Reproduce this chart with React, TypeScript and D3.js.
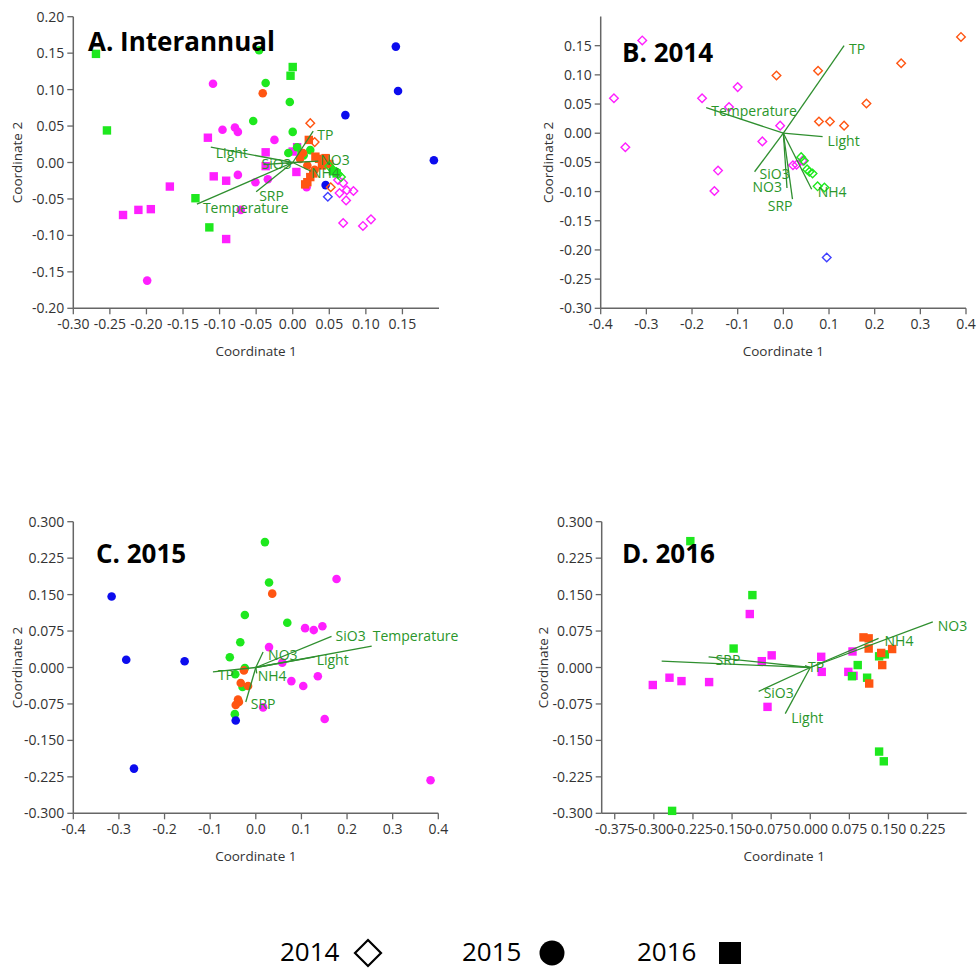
import React from "react";
import * as d3 from "d3";

type P = [number, number];
type Vec = { name: string; x: number; y: number };

// ---------- Panel A: Interannual ----------
const A_2014_orange: P[] = [[0.024, 0.054], [0.03, 0.028], [0.052, -0.034]];
const A_2014_magenta: P[] = [[0.062, -0.024], [0.069, -0.028], [0.064, -0.042], [0.074, -0.038], [0.083, -0.039], [0.073, -0.052], [0.069, -0.083], [0.096, -0.087], [0.107, -0.078]];
const A_2014_green: P[] = [[0.05, -0.005], [0.055, -0.01], [0.062, -0.016], [0.066, -0.02]];
const A_2014_blue: P[] = [[0.048, -0.047]];
const A_2015_green: P[] = [[-0.046, 0.154], [-0.037, 0.109], [-0.004, 0.083], [-0.054, 0.057], [0.0, 0.042], [0.024, 0.017], [0.006, 0.021], [-0.006, 0.013], [0.015, 0.01], [0.06, -0.013]];
const A_2015_magenta: P[] = [[-0.109, 0.108], [-0.096, 0.045], [-0.079, 0.048], [-0.075, 0.042], [-0.025, 0.031], [-0.075, -0.017], [-0.051, -0.027], [-0.034, -0.023], [-0.199, -0.162], [-0.071, -0.065], [0.019, -0.034]];
const A_2015_orange: P[] = [[-0.041, 0.095], [0.014, 0.013], [0.02, -0.004], [0.01, 0.005], [0.03, -0.01]];
const A_2015_blue: P[] = [[0.141, 0.159], [0.144, 0.098], [0.193, 0.003], [0.072, 0.065], [0.045, -0.031]];
const A_2016_green: P[] = [[-0.269, 0.149], [-0.254, 0.044], [-0.133, -0.049], [-0.114, -0.089], [-0.003, 0.119], [0.0, 0.131], [0.012, 0.01], [0.055, -0.012], [0.06, -0.015]];
const A_2016_magenta: P[] = [[-0.116, 0.034], [-0.108, -0.019], [-0.091, -0.025], [-0.168, -0.033], [-0.232, -0.072], [-0.211, -0.065], [-0.194, -0.064], [-0.091, -0.105], [-0.037, 0.014], [-0.037, -0.005], [0.005, -0.013], [0.006, 0.021], [0.0, 0.015]];
const A_2016_orange: P[] = [[0.022, 0.031], [0.031, 0.008], [0.036, 0.005], [0.02, -0.027], [0.024, -0.02], [0.04, -0.004], [0.028, -0.015], [0.045, 0.006], [0.05, -0.002], [0.017, -0.03]];
const A_vectors: Vec[] = [
  { name: "Light", x: -0.112, y: 0.021 },
  { name: "Temperature", x: -0.131, y: -0.057 },
  { name: "SRP", x: -0.05, y: -0.04 },
  { name: "SiO3", x: -0.04, y: -0.003 },
  { name: "TP", x: 0.028, y: 0.043 },
  { name: "NO3", x: 0.035, y: 0.002 },
  { name: "NH4", x: 0.025, y: -0.012 },
];
const A_xTicks = [-0.3, -0.25, -0.2, -0.15, -0.1, -0.05, 0, 0.05, 0.1, 0.15];
const A_yTicks = [-0.2, -0.15, -0.1, -0.05, 0, 0.05, 0.1, 0.15, 0.2];

// ---------- Panel B: 2014 ----------
const B_magenta: P[] = [[-0.309, 0.159], [-0.371, 0.06], [-0.346, -0.024], [-0.178, 0.06], [-0.1, 0.079], [-0.119, 0.045], [-0.007, 0.013], [-0.046, -0.014], [-0.143, -0.064], [-0.151, -0.099], [0.021, -0.055], [0.029, -0.054], [0.042, -0.047]];
const B_orange: P[] = [[-0.015, 0.099], [0.076, 0.107], [0.258, 0.12], [0.389, 0.165], [0.182, 0.051], [0.078, 0.02], [0.102, 0.02], [0.133, 0.013]];
const B_green: P[] = [[0.039, -0.041], [0.045, -0.047], [0.052, -0.062], [0.057, -0.066], [0.064, -0.069], [0.075, -0.091], [0.09, -0.093]];
const B_blue: P[] = [[0.095, -0.213]];
const B_vectors: Vec[] = [
  { name: "TP", x: 0.133, y: 0.15 },
  { name: "Temperature", x: -0.169, y: 0.044 },
  { name: "Light", x: 0.086, y: -0.006 },
  { name: "NO3", x: 0.008, y: -0.094 },
  { name: "SRP", x: 0.02, y: -0.113 },
  { name: "NH4", x: 0.062, y: -0.096 },
  { name: "SiO3", x: -0.063, y: -0.066 },
];
const B_xTicks = [-0.4, -0.3, -0.2, -0.1, 0, 0.1, 0.2, 0.3, 0.4];
const B_yTicks = [-0.3, -0.25, -0.2, -0.15, -0.1, -0.05, 0, 0.05, 0.1, 0.15];

// ---------- Panel C: 2015 ----------
const C_blue: P[] = [[-0.316, 0.146], [-0.284, 0.016], [-0.156, 0.013], [-0.267, -0.208], [-0.044, -0.109]];
const C_green: P[] = [[0.02, 0.258], [0.029, 0.175], [-0.024, 0.108], [0.069, 0.092], [-0.034, 0.052], [-0.057, 0.021], [-0.024, -0.001], [-0.045, -0.014], [-0.029, -0.04], [-0.046, -0.096]];
const C_orange: P[] = [[0.036, 0.152], [-0.026, -0.006], [-0.033, -0.032], [-0.017, -0.038], [-0.039, -0.066], [-0.037, -0.071], [-0.044, -0.077]];
const C_magenta: P[] = [[0.177, 0.182], [0.108, 0.081], [0.127, 0.077], [0.146, 0.085], [0.029, 0.042], [0.058, 0.01], [0.078, -0.028], [0.104, -0.038], [0.136, -0.018], [0.151, -0.106], [0.016, -0.082], [0.383, -0.232]];
const C_vectors: Vec[] = [
  { name: "SiO3", x: 0.166, y: 0.064 },
  { name: "Temperature", x: 0.254, y: 0.044 },
  { name: "Light", x: 0.129, y: 0.022 },
  { name: "TP", x: -0.094, y: -0.009 },
  { name: "NO3", x: 0.016, y: 0.032 },
  { name: "NH4", x: 0.002, y: -0.012 },
  { name: "SRP", x: -0.022, y: -0.071 },
];
const C_xTicks = [-0.4, -0.3, -0.2, -0.1, 0, 0.1, 0.2, 0.3, 0.4];
const C_yTicks = [-0.3, -0.225, -0.15, -0.075, 0, 0.075, 0.15, 0.225, 0.3];

// ---------- Panel D: 2016 ----------
const D_green: P[] = [[-0.23, 0.26], [-0.111, 0.149], [-0.147, 0.039], [-0.265, -0.295], [0.091, 0.005], [0.08, -0.018], [0.109, -0.021], [0.132, 0.023], [0.143, 0.027], [0.132, -0.173], [0.141, -0.193]];
const D_magenta: P[] = [[-0.116, 0.11], [-0.074, 0.025], [-0.093, 0.013], [-0.302, -0.036], [-0.27, -0.021], [-0.247, -0.028], [-0.194, -0.03], [-0.082, -0.081], [0.021, 0.022], [0.022, -0.009], [0.073, -0.009], [0.083, -0.017], [0.081, 0.033]];
const D_orange: P[] = [[0.102, 0.062], [0.112, 0.06], [0.112, 0.039], [0.136, 0.03], [0.138, 0.005], [0.157, 0.038], [0.113, -0.033]];
const D_vectors: Vec[] = [
  { name: "NO3", x: 0.235, y: 0.094 },
  { name: "NH4", x: 0.131, y: 0.06 },
  { name: "SRP", x: -0.195, y: 0.022 },
  { name: "Temperature", x: -0.285, y: 0.013 },
  { name: "SiO3", x: -0.099, y: -0.049 },
  { name: "Light", x: -0.048, y: -0.095 },
  { name: "TP", x: -0.01, y: 0.004 },
];
const D_xTicks = [-0.375, -0.3, -0.225, -0.15, -0.075, 0, 0.075, 0.15, 0.225];
const D_yTicks = [-0.3, -0.225, -0.15, -0.075, 0, 0.075, 0.15, 0.225, 0.3];

const LEGEND_YEARS = ["2014", "2015", "2016"];

// ---------- styles ----------
const COL = {
  green: "#1ee81e",
  magenta: "#ff1fff",
  orange: "#ff5512",
  blue: "#0c0cee",
  blueLight: "#4040ff",
  vec: "#2f8f2f",
  vecText: "#2a962a",
  axis: "#666",
  tick: "#333",
};
const FONT = "'Open Sans', 'DejaVu Sans', sans-serif";

type Shape = "diamond" | "circle" | "square";
type Series = { shape: Shape; color: string; pts: P[] };

// label offsets in pixels (layout only); null = no label
type Off = Record<string, [number, number, string?] | null>;

type PanelCfg = {
  title: string;
  titleX: number;
  titleY: number;
  left: number;
  right: number;
  top: number;
  bottom: number;
  xDomain: [number, number];
  yDomain: [number, number];
  xTicks: number[];
  yTicks: number[];
  xDec: number;
  yDec: number;
  series: Series[];
  vectors: Vec[];
  offsets: Off;
  yTitleX: number;
};

const fmt = (v: number, d: number) => {
  const s = v.toFixed(d);
  return s.startsWith("-") && Number(s) === 0 ? s.slice(1) : s;
};

function Marker({ shape, color, x, y }: { shape: Shape; color: string; x: number; y: number }) {
  if (shape === "circle") return <circle cx={x} cy={y} r={4.3} fill={color} />;
  if (shape === "square") return <rect x={x - 4.2} y={y - 4.2} width={8.4} height={8.4} fill={color} />;
  const h = 4.3;
  return (
    <path
      d={`M${x},${y - h}L${x + h},${y}L${x},${y + h}L${x - h},${y}Z`}
      fill="none"
      stroke={color}
      strokeWidth={1.4}
    />
  );
}

function Panel({ c }: { c: PanelCfg }) {
  const xs = d3.scaleLinear().domain(c.xDomain).range([c.left, c.right]);
  const ys = d3.scaleLinear().domain(c.yDomain).range([c.bottom, c.top]);
  const ox = xs(0);
  const oy = ys(0);
  return (
    <g>
      <line x1={c.left} x2={c.right} y1={c.bottom} y2={c.bottom} stroke={COL.axis} strokeWidth={1.5} />
      <line x1={c.left} x2={c.left} y1={c.top} y2={c.bottom} stroke={COL.axis} strokeWidth={1.5} />
      {c.xTicks.map((t) => (
        <g key={"x" + t}>
          <line x1={xs(t)} x2={xs(t)} y1={c.bottom} y2={c.bottom + 6} stroke={COL.axis} strokeWidth={1.3} />
          <text x={xs(t)} y={c.bottom + 21} textAnchor="middle" fontSize={14} fill={COL.tick} fontFamily={FONT}>
            {fmt(t, c.xDec)}
          </text>
        </g>
      ))}
      {c.yTicks.map((t) => (
        <g key={"y" + t}>
          <line x1={c.left - 6} x2={c.left} y1={ys(t)} y2={ys(t)} stroke={COL.axis} strokeWidth={1.3} />
          <text x={c.left - 9} y={ys(t) + 5} textAnchor="end" fontSize={14} fill={COL.tick} fontFamily={FONT}>
            {fmt(t, c.yDec)}
          </text>
        </g>
      ))}
      <text
        x={(c.left + c.right) / 2}
        y={c.bottom + 48}
        textAnchor="middle"
        fontSize={13.5}
        fill={COL.tick}
        fontFamily={FONT}
      >
        Coordinate 1
      </text>
      <text
        transform={`translate(${c.yTitleX},${(c.top + c.bottom) / 2}) rotate(-90)`}
        textAnchor="middle"
        fontSize={13.5}
        fill={COL.tick}
        fontFamily={FONT}
      >
        Coordinate 2
      </text>
      {c.series.map((s, i) =>
        s.pts.map((p, j) => <Marker key={i + "-" + j} shape={s.shape} color={s.color} x={xs(p[0])} y={ys(p[1])} />)
      )}
      {c.vectors.map((v) => (
        <line key={"v" + v.name} x1={ox} y1={oy} x2={xs(v.x)} y2={ys(v.y)} stroke={COL.vec} strokeWidth={1.3} />
      ))}
      {c.vectors.map((v) => {
        const o = c.offsets[v.name];
        if (!o) return null;
        return (
          <text
            key={"l" + v.name}
            x={xs(v.x) + o[0]}
            y={ys(v.y) + o[1]}
            textAnchor={o[2] || "start"}
            fontSize={14}
            fill={COL.vecText}
            fontFamily={FONT}
          >
            {v.name}
          </text>
        );
      })}
      <text x={c.titleX} y={c.titleY} fontSize={26} fontWeight="bold" fill="#000" fontFamily={FONT}>
        {c.title}
      </text>
    </g>
  );
}

const panels: PanelCfg[] = [
  {
    title: "A. Interannual",
    titleX: 88,
    titleY: 51,
    left: 73.3,
    right: 439,
    top: 16.7,
    bottom: 308.3,
    xDomain: [-0.3, 0.2],
    yDomain: [-0.2, 0.2],
    xTicks: A_xTicks,
    yTicks: A_yTicks,
    xDec: 2,
    yDec: 2,
    yTitleX: 22,
    series: [
      { shape: "circle", color: COL.magenta, pts: A_2015_magenta },
      { shape: "square", color: COL.magenta, pts: A_2016_magenta },
      { shape: "circle", color: COL.green, pts: A_2015_green },
      { shape: "square", color: COL.green, pts: A_2016_green },
      { shape: "square", color: COL.orange, pts: A_2016_orange },
      { shape: "circle", color: COL.orange, pts: A_2015_orange },
      { shape: "circle", color: COL.blue, pts: A_2015_blue },
      { shape: "diamond", color: COL.orange, pts: A_2014_orange },
      { shape: "diamond", color: COL.magenta, pts: A_2014_magenta },
      { shape: "diamond", color: COL.green, pts: A_2014_green },
      { shape: "diamond", color: COL.blueLight, pts: A_2014_blue },
    ],
    vectors: A_vectors,
    offsets: {
      Light: [5, 11],
      Temperature: [6, 9],
      SRP: [3, 9],
      SiO3: [-2, 4],
      TP: [4, 9],
      NO3: [2, 4],
      NH4: [0, 7],
    },
  },
  {
    title: "B. 2014",
    titleX: 622,
    titleY: 61.5,
    left: 600.7,
    right: 966,
    top: 16.5,
    bottom: 308.3,
    xDomain: [-0.4, 0.4],
    yDomain: [-0.3, 0.2],
    xTicks: B_xTicks,
    yTicks: B_yTicks,
    xDec: 1,
    yDec: 2,
    yTitleX: 553,
    series: [
      { shape: "diamond", color: COL.magenta, pts: B_magenta },
      { shape: "diamond", color: COL.orange, pts: B_orange },
      { shape: "diamond", color: COL.green, pts: B_green },
      { shape: "diamond", color: COL.blueLight, pts: B_blue },
    ],
    vectors: B_vectors,
    offsets: {
      TP: [5, 8],
      Temperature: [5, 8],
      Light: [5, 9],
      NO3: [-5, 4, "end"],
      SRP: [0, 12, "end"],
      NH4: [6, 8],
      SiO3: [5, 7],
    },
  },
  {
    title: "C. 2015",
    titleX: 96,
    titleY: 563.3,
    left: 73.3,
    right: 438.3,
    top: 521.7,
    bottom: 813.3,
    xDomain: [-0.4, 0.4],
    yDomain: [-0.3, 0.3],
    xTicks: C_xTicks,
    yTicks: C_yTicks,
    xDec: 1,
    yDec: 3,
    yTitleX: 22,
    series: [
      { shape: "circle", color: COL.magenta, pts: C_magenta },
      { shape: "circle", color: COL.green, pts: C_green },
      { shape: "circle", color: COL.orange, pts: C_orange },
      { shape: "circle", color: COL.blue, pts: C_blue },
    ],
    vectors: C_vectors,
    offsets: {
      SiO3: [4, 5],
      Temperature: [1, -5],
      Light: [2, 8],
      TP: [5, 8],
      NO3: [5, 8],
      NH4: [1, 8],
      SRP: [5, 7],
    },
  },
  {
    title: "D. 2016",
    titleX: 622,
    titleY: 563.3,
    left: 601.7,
    right: 966.7,
    top: 521.7,
    bottom: 813.3,
    xDomain: [-0.4, 0.3],
    yDomain: [-0.3, 0.3],
    xTicks: D_xTicks,
    yTicks: D_yTicks,
    xDec: 3,
    yDec: 3,
    yTitleX: 548,
    series: [
      { shape: "square", color: COL.magenta, pts: D_magenta },
      { shape: "square", color: COL.green, pts: D_green },
      { shape: "square", color: COL.orange, pts: D_orange },
    ],
    vectors: D_vectors,
    offsets: {
      NO3: [5, 9],
      NH4: [6, 8],
      SRP: [7, 8],
      Temperature: null,
      SiO3: [5, 7],
      Light: [6, 9],
      TP: [3, 6],
    },
  },
];

function Legend() {
  const shapes: Shape[] = ["diamond", "circle", "square"];
  const textX = [280, 462, 637];
  const markX = [368, 552, 730];
  const cy = 953;
  return (
    <g>
      {LEGEND_YEARS.map((yr, i) => (
        <g key={yr}>
          <text x={textX[i]} y={961} fontSize={26} fill="#000" fontFamily={FONT}>
            {yr}
          </text>
          {shapes[i] === "diamond" && (
            <path
              d={`M${markX[i]},${cy - 13}L${markX[i] + 13},${cy}L${markX[i]},${cy + 13}L${markX[i] - 13},${cy}Z`}
              fill="none"
              stroke="#000"
              strokeWidth={2.2}
            />
          )}
          {shapes[i] === "circle" && <circle cx={markX[i]} cy={cy} r={12.5} fill="#000" />}
          {shapes[i] === "square" && <rect x={markX[i] - 11} y={cy - 11} width={22} height={22} fill="#000" />}
        </g>
      ))}
    </g>
  );
}

export default function App() {
  return (
    <svg
      width={979}
      height={969}
      style={{ position: "absolute", left: 0, top: 0, background: "#fff" }}
    >
      <rect x={0} y={0} width={979} height={969} fill="#fff" />
      {panels.map((p) => (
        <Panel key={p.title} c={p} />
      ))}
      <Legend />
    </svg>
  );
}
